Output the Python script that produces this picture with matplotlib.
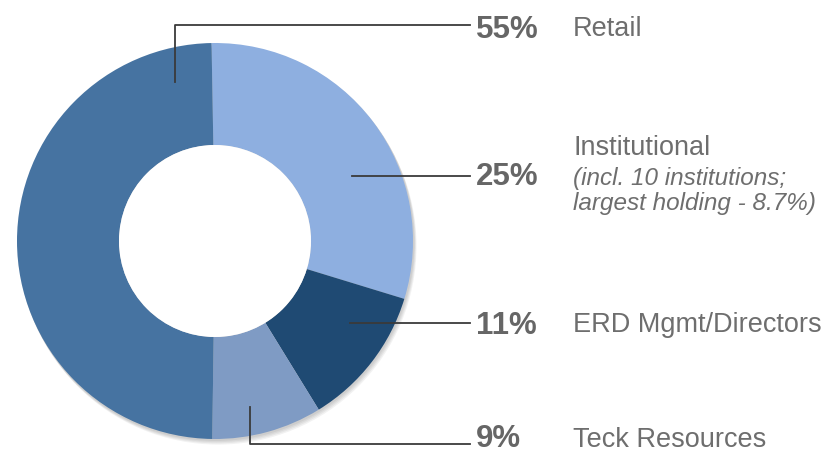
import matplotlib
matplotlib.use("Agg")
import matplotlib.pyplot as plt
from matplotlib.patches import Circle

# ---- data ----
categories = ["Institutional", "ERD Mgmt/Directors", "Teck Resources", "Retail"]
slice_shares = [30.0, 11.5, 9.0, 49.5]
pct_labels = ["25%", "11%", "9%", "55%"]
sub_labels = {"Institutional": ["(incl. 10 institutions;", "largest holding - 8.7%)"]}
colors = ["#8EAFE0", "#1F4A73", "#7F9BC4", "#4673A1"]

W, H = 831, 453
fig = plt.figure(figsize=(W / 100, H / 100), dpi=100)
ax = fig.add_axes([0, 0, 1, 1])

sans = "Liberation Sans"

cx, cy, R, r_in = 215, 453 - 241, 198, 96

# soft shadow
for i, a in enumerate([0.05, 0.05, 0.05, 0.05]):
    off = 1.5 + i * 1.2
    ax.add_patch(Circle((cx + off * 0.6, cy - off), R + 0.5, color="black", alpha=a, lw=0, zorder=0))

ax.pie(slice_shares, colors=colors, startangle=91, counterclock=False,
       center=(cx, cy), radius=R, wedgeprops=dict(width=R - r_in, linewidth=0),
       frame=True)
ax.set_xlim(0, W)
ax.set_ylim(0, H)
ax.set_aspect("equal")
ax.axis("off")
ax.add_patch(Circle((cx, cy), r_in, color="white", lw=0, zorder=3))

def py(y):
    return H - y

lc = "#3a3a3a"
lw = 1.3
# leader lines
ax.plot([175, 175, 470], [py(82), py(25), py(25)], color=lc, lw=lw, zorder=5)
ax.plot([352, 470], [py(176), py(176)], color=lc, lw=lw, zorder=5)
ax.plot([350, 470], [py(323), py(323)], color=lc, lw=lw, zorder=5)
ax.plot([250, 250, 470], [py(407), py(444), py(444)], color=lc, lw=lw, zorder=5)

pct_color = "#666666"
lab_color = "#6E6E6E"
base_pct = {"Retail": 38, "Institutional": 185, "ERD Mgmt/Directors": 334, "Teck Resources": 447}
base_lab = {"Retail": 36, "Institutional": 155, "ERD Mgmt/Directors": 332, "Teck Resources": 447}

for cat, pl in zip(categories, pct_labels):
    ax.text(476, py(base_pct[cat]), pl, fontsize=22.5, fontweight="bold", family=sans,
            color=pct_color, ha="left", va="baseline", zorder=6)
    ax.text(573, py(base_lab[cat]), cat, fontsize=19.5, family=sans,
            color=lab_color, ha="left", va="baseline", zorder=6)
    if cat in sub_labels:
        for k, line in enumerate(sub_labels[cat]):
            ax.text(573, py(185 + 25 * k), line, fontsize=17.5, family=sans, style="italic",
                    color=lab_color, ha="left", va="baseline", zorder=6)

fig.savefig("out.png", dpi=100)
